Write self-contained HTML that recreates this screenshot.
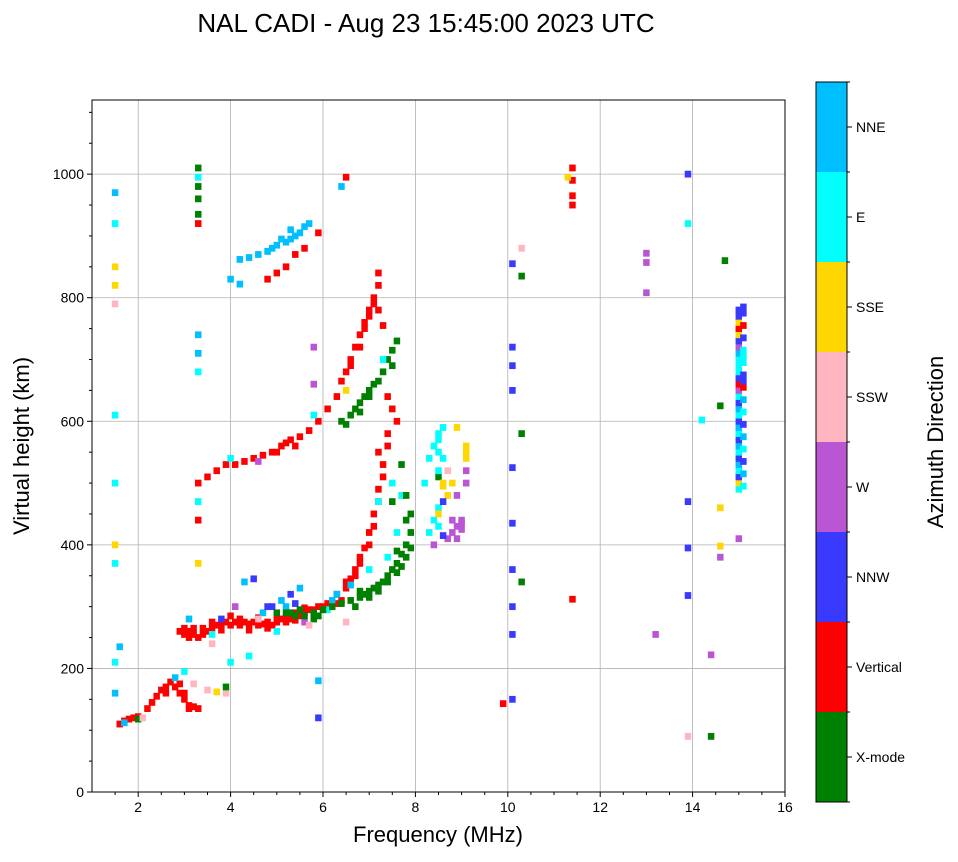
<!DOCTYPE html>
<html><head><meta charset="utf-8"><style>
body{margin:0;background:#fff}
svg text{font-family:"Liberation Sans",sans-serif;fill:#000}
</style></head><body>
<svg id="c" width="958" height="857" viewBox="0 0 958 857" xmlns="http://www.w3.org/2000/svg">
<text x="426" y="32" font-size="26" text-anchor="middle">NAL CADI - Aug 23 15:45:00 2023 UTC</text>
<g id="grid"></g><g id="marks"></g><g id="axes"></g><g id="cbar"></g>
<text x="438" y="842" font-size="22" text-anchor="middle">Frequency (MHz)</text>
<text transform="translate(29,446) rotate(-90)" font-size="22" text-anchor="middle">Virtual height (km)</text>
<text transform="translate(943,442) rotate(-90)" font-size="22" text-anchor="middle">Azimuth Direction</text>
</svg>
<script>
const directions=["X-mode","Vertical","NNW","W","SSW","SSE","E","NNE"];
const dirColors=["#008000","#ff0000","#3a3aff","#ba55d3","#ffb6c1","#ffd700","#00ffff","#00bfff"];
const xTicks=[2,4,6,8,10,12,14,16];
const yTicks=[0,200,400,600,800,1000];
// [frequency MHz, virtual height km, direction index]
const echoes=[
[1.6,110,1],[1.7,115,1],[1.8,118,1],[1.9,120,1],[2.0,122,1],[2.2,135,1],[2.3,145,1],[2.4,155,1],[2.5,165,1],[2.6,170,1],[2.7,178,1],[2.8,170,1],[2.9,160,1],[3.0,150,1],[3.1,140,1],[3.2,138,1],[3.3,135,1],[2.9,175,1],[3.0,160,1],[3.1,135,1],[2.6,160,1],[1.7,112,7],[2.0,118,0],[2.1,120,4],[3.5,165,4],[3.7,162,5],[3.9,160,4],[3.9,170,0],[2.8,185,7],[3.0,195,6],[3.2,175,4],
[2.9,260,1],[3.0,255,1],[3.1,260,1],[3.2,265,1],[3.3,250,1],[3.4,255,1],[3.5,260,1],[3.6,265,1],[3.7,270,1],[3.8,272,1],[3.9,275,1],[4.0,270,1],[4.1,275,1],[4.2,270,1],[4.3,275,1],[4.4,272,1],[4.5,275,1],[4.6,270,1],[4.7,272,1],[4.8,275,1],[4.9,270,1],[5.0,275,1],[5.1,280,1],[5.2,285,1],[5.3,280,1],[5.4,290,1],[5.5,285,1],[5.6,290,1],[5.7,295,1],[5.8,295,1],[5.9,300,1],[6.0,300,1],[6.1,305,1],[6.2,300,1],[6.3,305,1],[6.4,310,1],[6.5,330,1],[6.6,345,1],[6.7,360,1],[6.8,380,1],[6.9,395,1],[7.0,420,1],[7.1,450,1],[7.2,490,1],[7.3,530,1],[7.4,580,1],[7.5,620,1],
[3.0,265,1],[3.1,250,1],[3.2,255,1],[3.4,265,1],[3.6,275,1],[3.8,262,1],[4.0,285,1],[4.2,280,1],[4.4,262,1],[4.6,282,1],[4.8,265,1],[5.0,285,1],[5.2,275,1],[5.4,278,1],[5.6,298,1],[6.3,320,1],[6.5,340,1],[6.7,350,1],[6.8,370,1],[7.0,400,1],[7.2,470,1],[7.3,510,1],[7.1,430,1],[7.4,560,1],[7.2,550,1],
[3.1,280,7],[3.6,255,6],[3.8,280,2],[4.1,300,3],[4.3,340,7],[4.5,345,2],[4.7,290,7],[4.9,300,2],[5.1,310,7],[5.3,320,2],[5.5,330,7],[5.0,260,6],[5.6,275,3],[5.8,280,0],[6.1,295,6],[6.3,320,7],[6.6,335,7],[7.0,360,6],[7.4,380,6],[7.6,420,6],[7.2,470,6],[7.5,500,6],[7.7,480,6],[4.4,220,6],[4.0,210,6],[4.8,300,2],[5.2,300,7],[5.4,305,2],[4.6,280,4],[3.6,240,4],[5.7,270,4],[6.5,275,4],[6.2,310,7],
[5.0,290,0],[5.2,290,0],[5.4,285,0],[5.6,285,0],[5.8,290,0],[6.0,295,0],[6.2,300,0],[6.4,305,0],[6.6,310,0],[6.8,315,0],[6.9,320,0],[7.0,325,0],[7.1,330,0],[7.2,335,0],[7.3,340,0],[7.4,350,0],[7.5,360,0],[7.6,370,0],[7.7,385,0],[7.8,400,0],[7.9,420,0],[7.9,450,0],[7.8,480,0],[7.7,530,0],
[6.7,300,0],[6.8,325,0],[7.0,315,0],[7.2,325,0],[7.4,340,0],[7.6,355,0],[7.7,365,0],[7.8,380,0],[7.9,395,0],[7.6,390,0],[7.8,440,0],[7.5,470,0],[5.3,290,0],[5.5,295,0],[5.9,285,0],
[6.4,600,0],[6.6,610,0],[6.7,620,0],[6.8,630,0],[6.9,640,0],[7.0,650,0],[7.1,660,0],[7.3,680,0],[7.4,700,0],[7.5,715,0],[7.6,730,0],[6.5,595,0],[6.8,615,0],[7.0,640,0],[7.2,665,0],[7.5,690,0],
[3.3,500,1],[3.5,510,1],[3.7,520,1],[3.9,530,1],[4.1,530,1],[4.3,535,1],[4.5,540,1],[4.7,545,1],[4.9,550,1],[5.1,560,1],[5.3,570,1],[5.5,575,1],[5.7,585,1],[5.9,600,1],[6.1,620,1],[6.3,640,1],[6.4,665,1],[6.5,680,1],[6.6,700,1],[6.7,720,1],[6.8,740,1],[6.9,760,1],[7.0,780,1],[7.1,800,1],[7.2,820,1],[7.2,840,1],[4.0,540,6],[4.6,535,3],[5.8,610,6],[6.5,650,5],[7.3,700,6],[7.4,640,1],[7.6,600,1],
[5.0,550,1],[5.2,565,1],[5.4,560,1],[6.6,690,1],[6.8,720,1],[6.9,750,1],[7.0,770,1],[7.1,790,1],[7.3,755,1],[7.2,780,1],
[4.8,830,1],[5.0,840,1],[5.2,850,1],[5.4,870,1],[5.6,880,1],[5.9,905,1],[4.2,862,7],[4.4,865,7],[4.6,870,7],[4.8,875,7],[4.9,880,7],[5.0,885,7],[5.2,890,7],[5.3,895,7],[5.4,900,7],[5.5,905,7],[5.6,915,7],[5.7,920,7],[4.0,830,7],[4.2,822,7],[6.4,980,7],[6.5,995,1],[5.1,895,7],[5.3,910,7],
[8.3,420,6],[8.4,440,6],[8.5,460,6],[8.3,540,6],[8.4,560,6],[8.5,580,6],[8.6,590,6],[8.2,500,6],[8.4,400,3],[8.7,410,3],[8.8,420,3],[8.9,430,3],[9.0,440,3],[9.0,425,3],[8.6,495,5],[8.7,480,5],[8.9,590,5],[9.1,560,5],[9.1,540,5],[8.5,450,5],[8.6,470,2],[8.7,520,4],[8.9,480,3],[9.1,500,3],[8.6,540,6],[8.5,510,0],
[8.5,430,6],[8.5,520,6],[8.5,550,6],[8.5,570,6],[8.6,500,5],[8.6,415,2],[8.8,440,3],[8.9,410,3],[9.0,435,3],[9.1,550,5],[9.1,520,3],[8.8,500,5],
[15.0,490,6],[15.0,500,5],[15.0,510,2],[15.0,520,6],[15.0,530,7],[15.0,540,2],[15.0,550,6],[15.0,560,7],[15.0,570,2],[15.0,580,6],[15.0,590,7],[15.0,600,2],[15.0,610,6],[15.0,620,7],[15.0,630,2],[15.0,640,6],[15.0,650,3],[15.0,660,1],[15.0,670,2],[15.0,680,6],[15.0,690,6],[15.0,700,6],[15.0,710,7],[15.0,720,3],[15.0,730,2],[15.0,740,5],[15.0,750,1],[15.0,760,5],[15.0,770,2],[15.0,780,2],[15.0,410,3],
[15.1,495,6],[15.1,515,7],[15.1,535,2],[15.1,555,6],[15.1,575,7],[15.1,595,2],[15.1,615,6],[15.1,635,7],[15.1,655,1],[15.1,675,2],[15.1,695,6],[15.1,715,6],[15.1,735,2],[15.1,755,1],[15.1,775,2],[15.1,785,2],[15.1,665,2],[15.1,705,6],
[10.1,720,2],[10.1,690,2],[10.1,650,2],[10.1,525,2],[10.1,435,2],[10.1,360,2],[10.1,300,2],[10.1,255,2],[10.1,150,2],[10.1,855,2],[10.3,880,4],[10.3,835,0],[10.3,580,0],[10.3,340,0],[11.4,1010,1],[11.4,990,1],[11.4,965,1],[11.4,950,1],[11.3,995,5],[13.0,872,3],[13.0,857,3],[13.0,808,3],[13.2,255,3],[13.9,1000,2],[13.9,920,6],[13.9,470,2],[13.9,395,2],[13.9,318,2],[13.9,90,4],[14.2,602,6],[14.4,222,3],[14.4,90,0],[14.6,625,0],[14.6,460,5],[14.7,860,0],[14.6,398,5],[14.6,380,3],[9.9,143,1],[11.4,312,1],
[1.5,970,7],[1.5,920,6],[1.5,850,5],[1.5,820,5],[1.5,790,4],[1.5,610,6],[1.5,500,6],[1.5,400,5],[1.5,370,6],[1.5,210,6],[1.5,160,7],[1.6,235,7],
[3.3,1010,0],[3.3,995,6],[3.3,980,0],[3.3,960,0],[3.3,935,0],[3.3,920,1],[3.3,740,7],[3.3,710,7],[3.3,680,6],[3.3,470,6],[3.3,440,1],[3.3,370,5],[5.9,180,7],[5.9,120,2],[5.8,720,3],[5.8,660,3]
];
const NS="http://www.w3.org/2000/svg";
const L=92,R=785,T=100,B=792,fMin=1,fMax=16,hMax=1120;
const xS=f=>L+(f-fMin)/(fMax-fMin)*(R-L);
const yS=h=>B-h/hMax*(B-T);
function mk(tag,attrs,parent){const e=document.createElementNS(NS,tag);for(const k in attrs)e.setAttribute(k,attrs[k]);parent.appendChild(e);return e;}
const grid=document.getElementById('grid'),marks=document.getElementById('marks'),axes=document.getElementById('axes'),cbar=document.getElementById('cbar');
xTicks.forEach(t=>{const x=xS(t);
 if(t<16){const g=mk('line',{x1:x,x2:x,y1:T,y2:B,stroke:'#b0b0b0','stroke-width':0.8},grid);}
 mk('line',{x1:x,x2:x,y1:B,y2:B+5,stroke:'#000'},axes);
 const tx=mk('text',{x:x,y:B+20,'font-size':14,'text-anchor':'middle'},axes);tx.textContent=t;
 });
for(let f=1.5;f<16;f+=0.5){if(f%2!==0)mk('line',{x1:xS(f),x2:xS(f),y1:B,y2:B+3,stroke:'#000'},axes);}
yTicks.forEach(t=>{const y=yS(t);
 if(t>0){const g=mk('line',{x1:L,x2:R,y1:y,y2:y,stroke:'#b0b0b0','stroke-width':0.8},grid);}
 mk('line',{x1:L-5,x2:L,y1:y,y2:y,stroke:'#000'},axes);
 const tx=mk('text',{x:L-8,y:y+5,'font-size':14,'text-anchor':'end'},axes);tx.textContent=t;
 });
for(let h=50;h<hMax;h+=50){if(h%200!==0)mk('line',{x1:L-3,x2:L,y1:yS(h),y2:yS(h),stroke:'#000'},axes);}
const fr=mk('rect',{x:L,y:T,width:R-L,height:B-T,fill:'none',stroke:'#000','stroke-width':1},axes);

echoes.forEach(p=>{const w=xS(p[0]+0.14)-xS(p[0]);const h=yS(0)-yS(11);
 const r=mk('rect',{x:xS(p[0])-w/2,y:yS(p[1])-h/2,width:w,height:h,fill:dirColors[p[2]]},marks);
 });
const cx=816,cw=31,cT=82,cB=802,seg=(cB-cT)/directions.length;
directions.forEach((d,i)=>{const y=cB-(i+1)*seg;
 const r=mk('rect',{x:cx,y:y,width:cw,height:seg,fill:dirColors[i]},cbar);
 
 mk('line',{x1:cx+cw,x2:cx+cw+5,y1:y+seg/2,y2:y+seg/2,stroke:'#000'},cbar);
 const t=mk('text',{x:cx+cw+9,y:y+seg/2+5,'font-size':14},cbar);t.textContent=d;
 });
for(let i=0;i<=directions.length;i++){mk('line',{x1:cx+cw,x2:cx+cw+3,y1:cT+i*seg,y2:cT+i*seg,stroke:'#000'},cbar);}
const cf=mk('rect',{x:cx,y:cT,width:cw,height:cB-cT,fill:'none',stroke:'#000'},cbar);

</script>
</body></html>
